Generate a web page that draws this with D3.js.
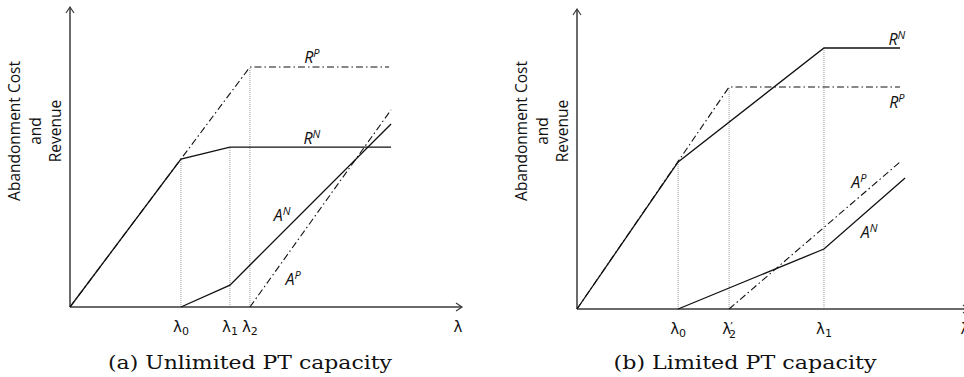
<!DOCTYPE html>
<html><head><meta charset="utf-8">
<script src="https://cdn.jsdelivr.net/npm/d3@7"></script>
<style>html,body{margin:0;padding:0;background:#fff;}svg{display:block;}</style>
</head><body>
<svg id="chart" width="964" height="377"></svg>
<script>
// ---------- data (abstract units) ----------
const yAxisLabel = ["Abandonment Cost", "and", "Revenue"];
const captionA = "(a) Unlimited PT capacity";
const captionB = "(b) Limited PT capacity";

// Panel (a)
const aTickNames = [["λ","0",""],["λ","1",""],["λ","2",""]];
const aTickValues = [2.83, 4.08, 4.59];
const aRN = [[0,0],[2.83,4.93],[4.08,5.33],[8.19,5.33]];
const aRP = [[0,0],[4.59,8.0],[8.14,8.0]];
const aAN = [[2.83,0],[4.08,0.73],[8.19,6.1]];
const aAP = [[4.59,0],[8.19,6.57]];
const aGuides = [[2.83,4.93],[4.08,5.33],[4.59,8.0]];
const aLabels = [["R","P",6.17,8.33],["R","N",6.17,5.63],["A","N",5.41,3.07],["A","P",5.69,0.93]];

// Panel (b)
const bTickNames = [["λ","0",""],["λ","2","′"],["λ","1",""]];
const bTickValues = [2.58, 3.88, 6.30];
const bRN = [[0,0],[2.58,4.9],[6.30,8.7],[8.24,8.7]];
const bRP = [[0,0],[3.88,7.4],[8.24,7.4]];
const bAN = [[2.58,0],[6.30,2.0],[8.37,4.37]];
const bAP = [[3.88,0],[8.24,4.9]];
const bGuides = [[2.58,4.9],[3.88,7.4],[6.30,8.7]];
const bLabels = [["R","N",8.16,9.0],["R","P",8.16,6.9],["A","P",7.19,4.23],["A","N",7.45,2.57]];

const xDomain = [0, 10];
const yDomain = [0, 10];

// ---------- drawing ----------
const svg = d3.select("#chart");

function panel(cfg) {
  const g = svg.append("g");
  const x = d3.scaleLinear().domain(xDomain).range([cfg.x0, cfg.x0 + 392]);
  const y = d3.scaleLinear().domain(yDomain).range([cfg.y0, cfg.y0 - 300]);
  const line = d3.line().x(d => x(d[0])).y(d => y(d[1]));

  // guides (dotted verticals)
  g.selectAll("line.guide").data(cfg.guides).join("line")
    .attr("x1", d => x(d[0])).attr("x2", d => x(d[0]))
    .attr("y1", y(0)).attr("y2", d => y(d[1]))
    .attr("stroke", "#9a9a9a").attr("stroke-width", 1)
    .attr("stroke-dasharray", "1 1");

  // axes
  const axisColor = "#3a3a3a";
  g.append("line").attr("x1", x(0)).attr("x2", x(0)).attr("y1", y(0)).attr("y2", y(10))
    .attr("stroke", axisColor).attr("stroke-width", 1.5);
  g.append("line").attr("x1", x(0)).attr("x2", x(10)).attr("y1", y(0)).attr("y2", y(0))
    .attr("stroke", axisColor).attr("stroke-width", 1.5);
  // arrowheads
  g.append("path").attr("d", `M${x(0)-4},${y(10)+6} L${x(0)},${y(10)} L${x(0)+4},${y(10)+6}`)
    .attr("fill", "none").attr("stroke", axisColor).attr("stroke-width", 1.2);
  g.append("path").attr("d", `M${x(10)-6},${y(0)-4} L${x(10)},${y(0)} L${x(10)-6},${y(0)+4}`)
    .attr("fill", "none").attr("stroke", axisColor).attr("stroke-width", 1.2);

  // curves
  const dashDot = "7 3 1.5 3";
  g.append("path").attr("d", line(cfg.RP)).attr("fill", "none").attr("stroke", "#111")
    .attr("stroke-width", 1.1).attr("stroke-dasharray", dashDot);
  g.append("path").attr("d", line(cfg.AP)).attr("fill", "none").attr("stroke", "#111")
    .attr("stroke-width", 1.1).attr("stroke-dasharray", dashDot);
  g.append("path").attr("d", line(cfg.RN)).attr("fill", "none").attr("stroke", "#111")
    .attr("stroke-width", 1.3);
  g.append("path").attr("d", line(cfg.AN)).attr("fill", "none").attr("stroke", "#111")
    .attr("stroke-width", 1.3);

  // curve labels
  cfg.labels.forEach(l => {
    const t = g.append("text").attr("x", x(l[2])).attr("y", y(l[3]) + 6)
      .attr("text-anchor", "middle").attr("font-family", "Open Sans, sans-serif")
      .attr("font-size", 16).attr("font-style", "italic").attr("fill", "#111");
    t.append("tspan").text(l[0]);
    t.append("tspan").attr("font-size", 11).attr("dy", -6).text(l[1]);
  });

  // tick labels
  cfg.ticks.forEach((n, i) => {
    const t = g.append("text").attr("x", x(cfg.tickValues[i])).attr("y", y(0) + 25)
      .attr("text-anchor", "middle").attr("font-family", "DejaVu Sans, sans-serif")
      .attr("font-size", 15).attr("fill", "#111");
    t.append("tspan").text(n[0]);
    if (n[2]) {
      t.append("tspan").attr("font-size", 12).attr("dy", -3).attr("dx", -1).text(n[2]);
      t.append("tspan").attr("font-size", 11).attr("dy", 7).attr("dx", -4).text(n[1]);
    } else {
      t.append("tspan").attr("font-size", 11).attr("dy", 3).text(n[1]);
    }
  });
  g.append("text").attr("x", x(10) - 4).attr("y", y(0) + 25)
    .attr("text-anchor", "middle").attr("font-family", "DejaVu Sans, sans-serif")
    .attr("font-size", 15).attr("fill", "#111").text("λ");

  // y axis label
  yAxisLabel.forEach((s, i) => {
    g.append("text")
      .attr("transform", `translate(${cfg.x0 - 50 + i * 20.5},${cfg.labelY}) rotate(-90)`)
      .attr("text-anchor", "middle").attr("font-family", "Open Sans, sans-serif")
      .attr("font-size", 15.5).attr("fill", "#111").text(s);
  });

  // caption
  g.append("text").attr("x", cfg.capX).attr("y", 369)
    .attr("text-anchor", "middle").attr("font-family", "DejaVu Serif, serif")
    .attr("font-size", 19).attr("fill", "#111")
    .attr("textLength", cfg.capW).attr("lengthAdjust", "spacingAndGlyphs")
    .text(cfg.caption);
}

panel({x0: 70, y0: 307, guides: aGuides, RN: aRN, RP: aRP, AN: aAN, AP: aAP, labels: aLabels,
  ticks: aTickNames, tickValues: aTickValues, labelY: 131, capX: 250, capW: 284, caption: captionA});
panel({x0: 577, y0: 309, guides: bGuides, RN: bRN, RP: bRP, AN: bAN, AP: bAP, labels: bLabels,
  ticks: bTickNames, tickValues: bTickValues, labelY: 131, capX: 745, capW: 263, caption: captionB});
</script>
</body></html>
